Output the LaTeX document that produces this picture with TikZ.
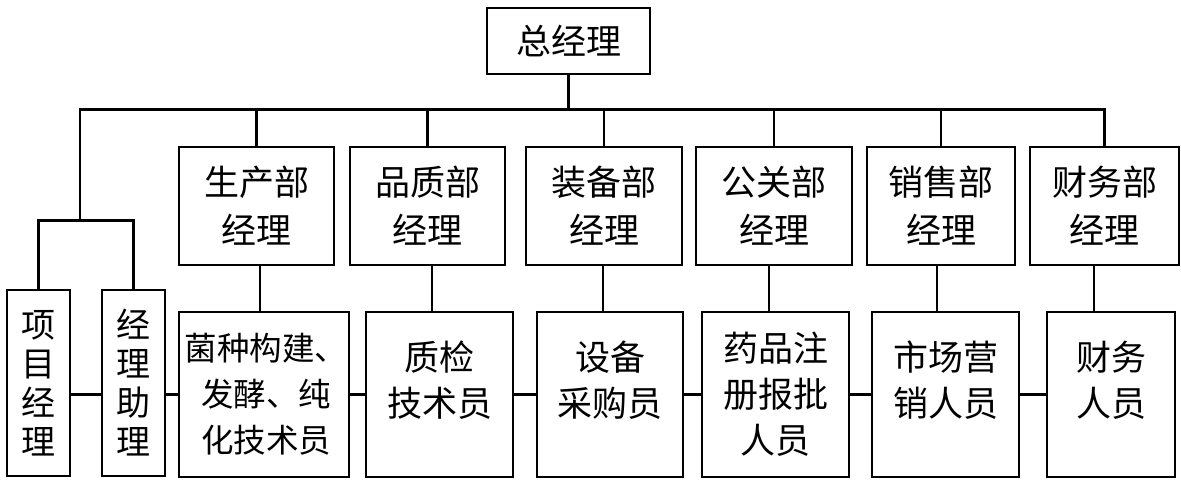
\documentclass[tikz,border=0pt]{standalone}
\usepackage{fontspec}
\newfontfamily\cjk{Noto Sans CJK SC}
\usetikzlibrary{calc}
\begin{document}
\begin{tikzpicture}[x=1pt,y=-1pt,
  box/.style={draw,line width=2.9pt,inner sep=0pt},
  conn/.style={line width=2.3pt},
  heavy/.style={line width=3pt},
  txt/.style={inner sep=0pt,align=center,font={\cjk\fontsize{35}{48}\selectfont}},
  txtb/.style={inner sep=0pt,align=center,font={\cjk\fontsize{35}{46}\selectfont}},
  txts/.style={inner sep=0pt,align=center,font={\cjk\fontsize{32.5}{46}\selectfont}},
  txtv/.style={inner sep=0pt,align=center,font={\cjk\fontsize{34}{39}\selectfont}}]
\useasboundingbox (0,0) rectangle (1181,480);
% top
\node[box,minimum width=163pt,minimum height=66pt] (gm) at (568.5,41) {};
\node[txt] (gmt) at (gm.center) {总经理};
% departments
\node[box,minimum width=155pt,minimum height=118pt] (d1) at (256.5,206) {};
\node[box,minimum width=155pt,minimum height=118pt] (d2) at (427.5,206) {};
\node[box,minimum width=156pt,minimum height=118pt] (d3) at (604,206) {};
\node[box,minimum width=156pt,minimum height=118pt] (d4) at (774,206) {};
\node[box,minimum width=148pt,minimum height=118pt] (d5) at (941,206) {};
\node[box,minimum width=149pt,minimum height=118pt] (d6) at (1104.5,206) {};
\node[txt] (d1t) at (d1.center) {生产部\\经理};
\node[txt] (d2t) at (d2.center) {品质部\\经理};
\node[txt] (d3t) at (d3.center) {装备部\\经理};
\node[txt] (d4t) at (d4.center) {公关部\\经理};
\node[txt] (d5t) at (d5.center) {销售部\\经理};
\node[txt] (d6t) at (d6.center) {财务部\\经理};
% left boxes
\node[box,minimum width=63pt,minimum height=186pt] (pm) at (38.5,383) {};
\node[box,minimum width=63pt,minimum height=186pt] (pa) at (133.5,383) {};
\node[txtv] (pmt) at (pm.center) {项\\目\\经\\理};
\node[txtv] (pat) at (pa.center) {经\\理\\助\\理};
% staff boxes
\node[box,minimum width=170pt,minimum height=165pt] (s1) at (264,394.5) {};
\node[box,minimum width=147pt,minimum height=165pt] (s2) at (439.5,394.5) {};
\node[box,minimum width=146pt,minimum height=165pt] (s3) at (610,394.5) {};
\node[box,minimum width=147pt,minimum height=165pt] (s4) at (775.5,394.5) {};
\node[box,minimum width=147pt,minimum height=165pt] (s5) at (945.5,394.5) {};
\node[box,minimum width=128pt,minimum height=165pt] (s6) at (1111,394.5) {};
\node[txts] (s1t) at ([xshift=2pt]s1.center) {菌种构建、\\发酵、纯\\化技术员};
\node[txtb] (s2t) at ([yshift=14pt]s2.center) {质检\\技术员};
\node[txtb] (s3t) at ([yshift=14pt]s3.center) {设备\\采购员};
\node[txtb] (s4t) at (s4.center) {药品注\\册报批\\人员};
\node[txtb] (s5t) at ([yshift=14pt]s5.center) {市场营\\销人员};
\node[txtb] (s6t) at ([yshift=14pt]s6.center) {财务\\人员};
% bus
\coordinate (busL) at (80,109);
\coordinate (busR) at (d6.north |- busL);
\coordinate (lj) at (80,220);
\draw[heavy] ([xshift=-1.2pt]busL) -- ([xshift=1.2pt]busR);
\draw[conn] (gm.south) -- (gm.south |- busL);
\foreach \d in {d1,d2,d3,d4,d5,d6} {\draw[conn] (\d.north) -- (\d.north |- busL);}
\draw[conn] (busL) -- (lj);
\draw[heavy] (pm.north) -- (pm.north |- lj) -- (pa.north |- lj) -- (pa.north);
% dept to staff
\draw[conn] ([xshift=3.5pt]d1.south) -- ([xshift=3.5pt]d1.south |- s1.north);
\draw[conn] ([xshift=4.5pt]d2.south) -- ([xshift=4.5pt]d2.south |- s2.north);
\draw[conn] ([xshift=-1pt]d3.south) -- ([xshift=-1pt]d3.south |- s3.north);
\draw[conn] ([xshift=-5pt]d4.south) -- ([xshift=-5pt]d4.south |- s4.north);
\draw[conn] ([xshift=-4pt]d5.south) -- ([xshift=-4pt]d5.south |- s5.north);
\draw[conn] ([xshift=-10.5pt]d6.south) -- ([xshift=-10.5pt]d6.south |- s6.north);
% chain
\draw[heavy] (pm.east |- s1.west) -- (pa.west |- s1.west);
\draw[heavy] (pa.east |- s1.west) -- (s1.west);
\draw[heavy] (s1.east) -- (s2.west);
\draw[heavy] (s2.east) -- (s3.west);
\draw[heavy] (s3.east) -- (s4.west);
\draw[heavy] (s4.east) -- (s5.west);
\draw[heavy] (s5.east) -- (s6.west);
\end{tikzpicture}
\end{document}
